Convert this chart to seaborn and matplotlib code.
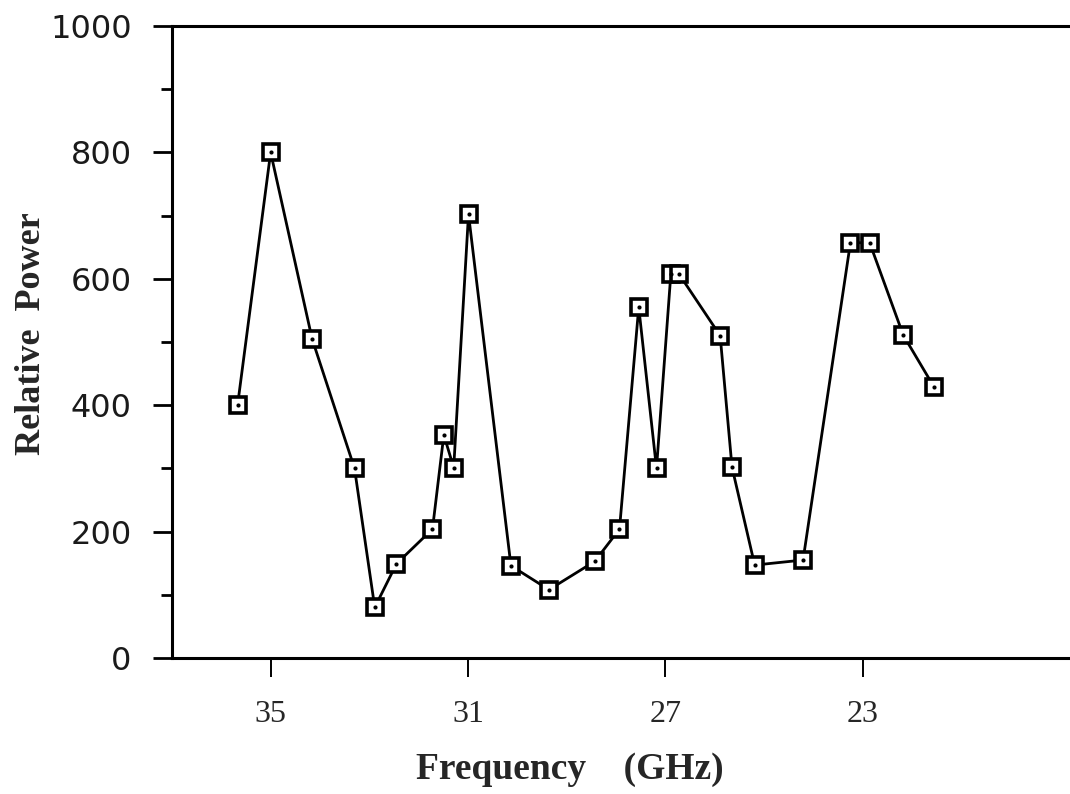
import matplotlib
matplotlib.use("Agg")
import matplotlib.pyplot as plt
import seaborn as sns
import pandas as pd
from matplotlib.ticker import MultipleLocator, FixedLocator

# Measured relative power versus frequency (GHz), in sweep order
frequency_ghz = [35.67, 35.00, 34.16, 33.30, 32.89, 32.45, 31.72, 31.49, 31.29,
                 30.99, 30.13, 29.36, 28.43, 27.93, 27.54, 27.18, 26.89, 26.72,
                 25.89, 25.65, 25.19, 24.21, 23.25, 22.86, 22.18, 21.55]
relative_power = [400, 800, 505, 300, 80, 149, 204, 353, 301,
                  702, 146, 108, 153, 204, 555, 300, 607, 607,
                  510, 302, 147, 155, 657, 657, 511, 428]

x_ticks = [35, 31, 27, 23]
y_ticks = [0, 200, 400, 600, 800, 1000]

df = pd.DataFrame({"freq": frequency_ghz, "power": relative_power})

sns.set_theme(style="ticks")
plt.rcParams["font.family"] = ["DejaVu Sans"]

fig = plt.figure(figsize=(10.7, 7.94), dpi=100)
ax = fig.add_axes([0.1607, 0.1713, 0.8393, 0.796])

sns.lineplot(data=df, x="freq", y="power", sort=False, ax=ax,
             color="black", linewidth=2.0, marker="s", markersize=12,
             markerfacecolor="white", markeredgecolor="black",
             markeredgewidth=2.6, zorder=3)
sns.scatterplot(data=df, x="freq", y="power", ax=ax, color="black",
                s=9, linewidth=0, zorder=4)

ax.set_xlim(37.0, 18.8)
ax.set_ylim(0, 1000)

ax.xaxis.set_major_locator(FixedLocator(x_ticks))
ax.set_xticklabels([str(t) for t in x_ticks], fontfamily="Liberation Serif",
                   fontsize=23)
ax.yaxis.set_major_locator(FixedLocator(y_ticks))
ax.yaxis.set_minor_locator(MultipleLocator(100))
ax.set_yticklabels([str(t) for t in y_ticks], fontsize=23, color="#1a1a1a")

ax.tick_params(axis="x", which="major", direction="out", length=14,
               width=1.4, pad=16, color="black")
ax.tick_params(axis="y", which="major", direction="out", length=14,
               width=2.0, pad=15, color="black")
ax.tick_params(axis="y", which="minor", direction="out", length=8,
               width=2.0, color="black")

for side in ["left", "bottom", "top"]:
    ax.spines[side].set_linewidth(2.2)
    ax.spines[side].set_color("black")
ax.spines["right"].set_visible(False)

ax.set_xlabel("Frequency    (GHz)", fontfamily="Liberation Serif",
              fontweight="bold", fontsize=27)
ax.xaxis.set_label_coords(0.443, -0.148)
ax.set_ylabel("Relative  Power", fontfamily="Liberation Serif",
              fontweight="bold", fontsize=26)
ax.yaxis.set_label_coords(-0.138, 0.513)

fig.savefig("out.png", dpi=100, facecolor="white")
